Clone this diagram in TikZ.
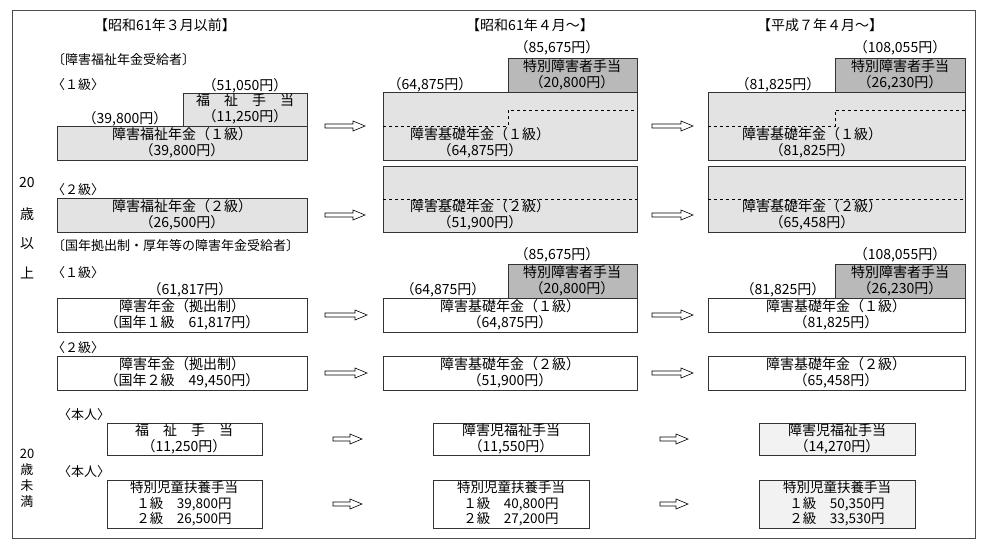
\documentclass[tikz,border=0pt]{standalone}
\usepackage{fontspec}
\setmainfont{Noto Sans CJK JP}
\begin{document}
\begin{tikzpicture}[x=1pt,y=-1pt,
  lt/.style={fill=gray!22,draw=black!80,line width=0.7pt},
  dk/.style={fill=gray!55,draw=black!80,line width=0.7pt},
  wt/.style={fill=white,draw=black!80,line width=0.7pt},
  vl/.style={fill=gray!10,draw=black!80,line width=0.7pt},
  tx/.style={font=\fontsize{14}{15.5}\selectfont,align=center,inner sep=0pt},
  t3/.style={font=\fontsize{13.5}{15.5}\selectfont,align=center,inner sep=0pt},
  lb/.style={font=\fontsize{13}{14}\selectfont,anchor=west,inner sep=0pt},
  dl/.style={dashed,line width=0.6pt}]
\useasboundingbox (0,0) rectangle (984,543);
\draw[line width=0.7pt,black!70] (12,10) rectangle (975,538);
\newcommand\harr[3]{\draw[line width=0.6pt,fill=white] (#1,#3-2) -- (#2-12,#3-2) -- (#2-12,#3-5) -- (#2,#3) -- (#2-12,#3+5) -- (#2-12,#3+2) -- (#1,#3+2) -- cycle;}
% headers
\node[tx] (h1) at (165,25) {【昭和61年３月以前】};
\node[tx] (h2) at (530,25) {【昭和61年４月～】};
\node[tx] (h3) at (820,25) {【平成７年４月～】};
\node[lb] (s1) at (52,60) {〔障害福祉年金受給者〕};
\node[lb] (g1) at (52,85) {〈１級〉};
% side labels
\node[tx] (a1) at (27,183) {20};
\node[tx] (a2) at (27,214) {歳};
\node[tx] (a3) at (27,244) {以};
\node[tx] (a4) at (27,273) {上};
\node[tx,font=\fontsize{13}{16}\selectfont] (a5) at (27,478) {20\\歳\\未\\満};
% row 1
\draw[lt] (183,93) rectangle (307,126);
\node[tx] (r1a) at (245,109) {福　祉　手　当\\（11,250円）};
\draw[lt] (57,126) rectangle (307,160);
\node[tx] (r1b) at (182,143) {障害福祉年金（１級）\\（39,800円）};
\node[tx] (r1c) at (245,86) {（51,050円）};
\node[tx] (r1d) at (125,119) {（39,800円）};
\harr{325}{365}{126}
\draw[lt] (383,92) rectangle (637,160);
\draw[dk] (508,58) rectangle (637,92);
\draw[dl] (383,126) -- (508,126) -- (508,110) -- (637,110);
\node[tx] (r1e) at (572,75) {特別障害者手当\\（20,800円）};
\node[tx] (r1f) at (557,48) {（85,675円）};
\node[tx] (r1g) at (430,85) {（64,875円）};
\node[tx] (r1h) at (480,143) {障害基礎年金（１級）\\（64,875円）};
\harr{652}{693}{126}
\draw[lt] (708,92) rectangle (965,160);
\draw[dk] (835,58) rectangle (965,92);
\draw[dl] (708,126) -- (835,126) -- (835,110) -- (965,110);
\node[tx] (r1i) at (900,75) {特別障害者手当\\（26,230円）};
\node[tx] (r1j) at (900,48) {（108,055円）};
\node[tx] (r1k) at (778,85) {（81,825円）};
\node[tx] (r1l) at (812,143) {障害基礎年金（１級）\\（81,825円）};
% row 2
\node[lb] (g2) at (52,190) {〈２級〉};
\draw[lt] (57,198) rectangle (307,232);
\node[tx] (r2a) at (182,215) {障害福祉年金（２級）\\（26,500円）};
\harr{325}{365}{215}
\draw[lt] (383,166) rectangle (637,232);
\draw[dl] (383,199) -- (637,199);
\node[tx] (r2b) at (480,215) {障害基礎年金（２級）\\（51,900円）};
\harr{652}{693}{215}
\draw[lt] (708,166) rectangle (965,232);
\draw[dl] (708,199) -- (965,199);
\node[tx] (r2c) at (812,215) {障害基礎年金（２級）\\（65,458円）};
% section 2
\node[lb] (s2) at (52,246) {〔国年拠出制・厚年等の障害年金受給者〕};
\node[lb] (g3) at (52,273) {〈１級〉};
\node[tx] (r3a) at (190,290) {（61,817円）};
\draw[wt] (57,298) rectangle (307,332);
\node[tx] (r3b) at (182,315) {障害年金（拠出制）\\（国年１級　61,817円）};
\harr{325}{367}{315}
\draw[dk] (508,264) rectangle (637,298);
\draw[wt] (383,298) rectangle (637,332);
\node[tx] (r3c) at (572,281) {特別障害者手当\\（20,800円）};
\node[tx] (r3d) at (557,255) {（85,675円）};
\node[tx] (r3e) at (443,290) {（64,875円）};
\node[tx] (r3f) at (510,315) {障害基礎年金（１級）\\（64,875円）};
\harr{652}{693}{315}
\draw[dk] (835,264) rectangle (965,298);
\draw[wt] (708,298) rectangle (965,332);
\node[tx] (r3g) at (900,281) {特別障害者手当\\（26,230円）};
\node[tx] (r3h) at (900,255) {（108,055円）};
\node[tx] (r3i) at (783,290) {（81,825円）};
\node[tx] (r3j) at (836,315) {障害基礎年金（１級）\\（81,825円）};
% row 4
\node[lb] (g4) at (52,348) {〈２級〉};
\draw[wt] (57,356) rectangle (307,390);
\node[tx] (r4a) at (182,373) {障害年金（拠出制）\\（国年２級　49,450円）};
\harr{325}{367}{373}
\draw[wt] (383,356) rectangle (637,390);
\node[tx] (r4b) at (510,373) {障害基礎年金（２級）\\（51,900円）};
\harr{652}{693}{373}
\draw[wt] (708,356) rectangle (965,390);
\node[tx] (r4c) at (836,373) {障害基礎年金（２級）\\（65,458円）};
% row 5
\node[lb] (g5) at (58,415) {〈本人〉};
\draw[wt] (107,423) rectangle (262,455);
\node[tx] (r5a) at (184,439) {福　祉　手　当\\（11,250円）};
\harr{333}{362}{439}
\draw[wt] (433,423) rectangle (589,455);
\node[tx] (r5b) at (511,439) {障害児福祉手当\\（11,550円）};
\harr{660}{688}{439}
\draw[vl] (759,423) rectangle (915,455);
\node[tx] (r5c) at (837,439) {障害児福祉手当\\（14,270円）};
% row 6
\node[lb] (g6) at (58,472) {〈本人〉};
\draw[wt] (107,480) rectangle (262,528);
\node[t3] (r6a) at (184,504) {特別児童扶養手当\\１級　39,800円\\２級　26,500円};
\harr{333}{362}{504}
\draw[wt] (433,480) rectangle (589,528);
\node[t3] (r6b) at (511,504) {特別児童扶養手当\\１級　40,800円\\２級　27,200円};
\harr{660}{688}{504}
\draw[vl] (759,480) rectangle (915,528);
\node[t3] (r6c) at (837,504) {特別児童扶養手当\\１級　50,350円\\２級　33,530円};
\end{tikzpicture}
\end{document}
